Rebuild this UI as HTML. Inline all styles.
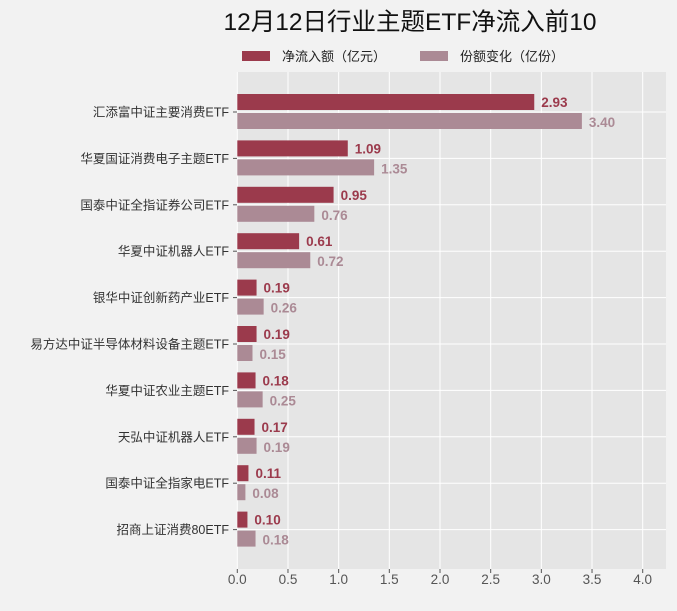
<!DOCTYPE html>
<html><head><meta charset="utf-8"><style>
body{margin:0;width:677px;height:606px;background:#f2f2f2;overflow:hidden;font-family:"Liberation Sans","Noto Sans CJK SC",sans-serif}
</style></head><body>
<svg id="c" width="677" height="606" xmlns="http://www.w3.org/2000/svg">
<text x="410" y="30" font-size="24.5" text-anchor="middle" fill="#111" font-family="Liberation Sans,Noto Sans CJK SC,sans-serif">12月12日行业主题ETF净流入前10</text>
<g font-size="13" fill="#222">
<rect x="242" y="51" width="28" height="10" fill="#9b3a4c"/>
<text x="282" y="61">净流入额（亿元）</text>
<rect x="420" y="51" width="28" height="10" fill="#ab8a95"/>
<text x="460" y="61">份额变化（亿份）</text>
</g>
<rect x="237" y="72" width="429" height="497" fill="#e5e5e5"/>
<g id="grid"></g><g id="bars"></g><g id="axes"></g>
</svg>
<script>
const categories=["汇添富中证主要消费ETF","华夏国证消费电子主题ETF","国泰中证全指证券公司ETF","华夏中证机器人ETF","银华中证创新药产业ETF","易方达中证半导体材料设备主题ETF","华夏中证农业主题ETF","天弘中证机器人ETF","国泰中证全指家电ETF","招商上证消费80ETF"];
const netInflow=[2.93,1.09,0.95,0.61,0.19,0.19,0.18,0.17,0.11,0.10];
const shareChange=[3.40,1.35,0.76,0.72,0.26,0.15,0.25,0.19,0.08,0.18];
const xTicks=["0.0","0.5","1.0","1.5","2.0","2.5","3.0","3.5","4.0"];
const NS="http://www.w3.org/2000/svg";
const x=v=>237.3+v*101.35;
const y=i=>112+i*46.4;
function mk(t,a,p){const e=document.createElementNS(NS,t);for(const k in a)e.setAttribute(k,a[k]);document.getElementById(p).appendChild(e);return e;}
xTicks.forEach(t=>{const v=parseFloat(t);
const g=mk('line',{x1:x(v),x2:x(v),y1:72,y2:569,stroke:'#fff','stroke-width':1},'grid');


const tk=mk('line',{x1:x(v),x2:x(v),y1:569,y2:573,stroke:'#555'},'axes');


const l=mk('text',{x:x(v),y:584,'font-size':13.5,'text-anchor':'middle',fill:'#555'},'axes');l.textContent=t;

});
categories.forEach((c,i)=>{const cy=y(i);
const g=mk('line',{x1:237,x2:666,y1:cy,y2:cy,stroke:'#fff'},'grid');


const tk=mk('line',{x1:233,x2:237,y1:cy,y2:cy,stroke:'#555'},'axes');


const l=mk('text',{x:229,y:cy+4.5,'font-size':12.5,'text-anchor':'end',fill:'#333'},'axes');l.textContent=c;


const b1=mk('rect',{x:x(0),y:cy-18,width:x(netInflow[i])-x(0),height:16,fill:'#9b3a4c'},'bars');


const t1=mk('text',{x:x(netInflow[i])+7,y:cy-5,'font-size':13.5,'font-weight':'bold',fill:'#9b3a4c'},'bars');t1.textContent=netInflow[i].toFixed(2);


const b2=mk('rect',{x:x(0),y:cy+1,width:x(shareChange[i])-x(0),height:16,fill:'#ab8a95'},'bars');


const t2=mk('text',{x:x(shareChange[i])+7,y:cy+15,'font-size':13.5,'font-weight':'bold',fill:'#ab8a95'},'bars');t2.textContent=shareChange[i].toFixed(2);

});
</script>
</body></html>
